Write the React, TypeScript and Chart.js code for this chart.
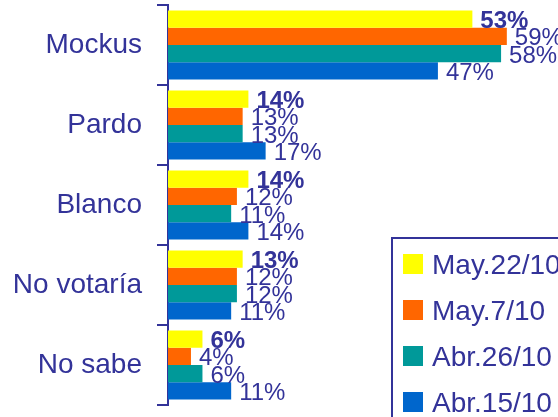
import React, { useEffect, useRef } from "react";
import { Chart, registerables } from "chart.js";

Chart.register(...registerables);

const categories = ["Mockus", "Pardo", "Blanco", "No votaría", "No sabe"];
const seriesNames = ["May.22/10", "May.7/10", "Abr.26/10", "Abr.15/10"];
const may22 = [53, 14, 14, 13, 6];
const may7 = [59, 13, 12, 12, 4];
const abr26 = [58, 13, 11, 12, 6];
const abr15 = [47, 17, 14, 11, 11];
const seriesValues = [may22, may7, abr26, abr15];
const seriesColors = ["#FFFF00", "#FF6600", "#009999", "#0066CC"];
const xMin = 0;
const xMax = 70;

const TEXT = "#333399";
const FONT = "'Liberation Sans', Arial, sans-serif";
const CANVAS_W = 570;
const CANVAS_H = 417;

const valueLabelPlugin = {
  id: "valueLabels",
  afterDatasetsDraw(chart: any) {
    const ctx = chart.ctx;
    ctx.save();
    chart.data.datasets.forEach((ds: any, di: number) => {
      const meta = chart.getDatasetMeta(di);
      ctx.font = `${di === 0 ? "bold " : ""}24px ${FONT}`;
      ctx.fillStyle = TEXT;
      ctx.textAlign = "left";
      ctx.textBaseline = "alphabetic";
      meta.data.forEach((bar: any, i: number) => {
        ctx.fillText(ds.data[i] + "%", bar.x + 8, bar.y + 9);
      });
    });
    ctx.restore();
  },
};

const boxLegendPlugin = {
  id: "boxLegend",
  afterDraw(chart: any) {
    const ctx = chart.ctx;
    const left = 392;
    const top = 238;
    ctx.save();
    ctx.strokeStyle = TEXT;
    ctx.lineWidth = 2;
    ctx.strokeRect(left, top, chart.width + 20 - left, chart.height + 20 - top);
    ctx.font = `28px ${FONT}`;
    ctx.textAlign = "left";
    ctx.textBaseline = "alphabetic";
    chart.data.datasets.forEach((ds: any, i: number) => {
      const y = top + 16 + i * 46;
      ctx.fillStyle = ds.backgroundColor;
      ctx.fillRect(left + 11, y, 20, 20);
      ctx.fillStyle = TEXT;
      ctx.fillText(ds.label, left + 40, y + 19.5);
    });
    ctx.restore();
  },
};

export default function App() {
  const canvasRef = useRef<HTMLCanvasElement | null>(null);

  useEffect(() => {
    if (!canvasRef.current) return;
    const chart = new Chart(canvasRef.current, {
      type: "bar",
      data: {
        labels: categories,
        datasets: seriesNames.map((name, i) => ({
          label: name,
          data: seriesValues[i],
          backgroundColor: seriesColors[i],
          borderWidth: 0,
          categoryPercentage: 0.8625,
          barPercentage: 1,
        })),
      },
      options: {
        indexAxis: "y",
        animation: false,
        responsive: false,
        devicePixelRatio: 1,
        layout: { padding: { left: 0, top: 5, bottom: 12, right: 0 } },
        plugins: {
          legend: { display: false },
          tooltip: { enabled: false },
        },
        scales: {
          x: {
            display: false,
            min: xMin,
            max: xMax,
          },
          y: {
            z: 1,
            border: { display: true, color: TEXT, width: 2 },
            grid: {
              display: true,
              drawOnChartArea: false,
              drawTicks: true,
              tickLength: 11,
              color: TEXT,
              lineWidth: 2,
              offset: true,
            },
            ticks: {
              color: TEXT,
              padding: 15,
              font: { family: FONT, size: 28 },
            },
            afterFit(scale: any) {
              scale.width = 168;
              scale.paddingTop = 0;
              scale.paddingBottom = 0;
            },
          },
        },
      },
      plugins: [valueLabelPlugin, boxLegendPlugin],
    } as any);
    return () => chart.destroy();
  }, []);

  return (
    <div
      style={{
        position: "fixed",
        left: 0,
        top: 0,
        width: 558,
        height: 417,
        overflow: "hidden",
        background: "#fff",
      }}
    >
      <canvas
        ref={canvasRef}
        width={CANVAS_W}
        height={CANVAS_H}
        style={{ display: "block", width: CANVAS_W, height: CANVAS_H }}
      />
    </div>
  );
}
